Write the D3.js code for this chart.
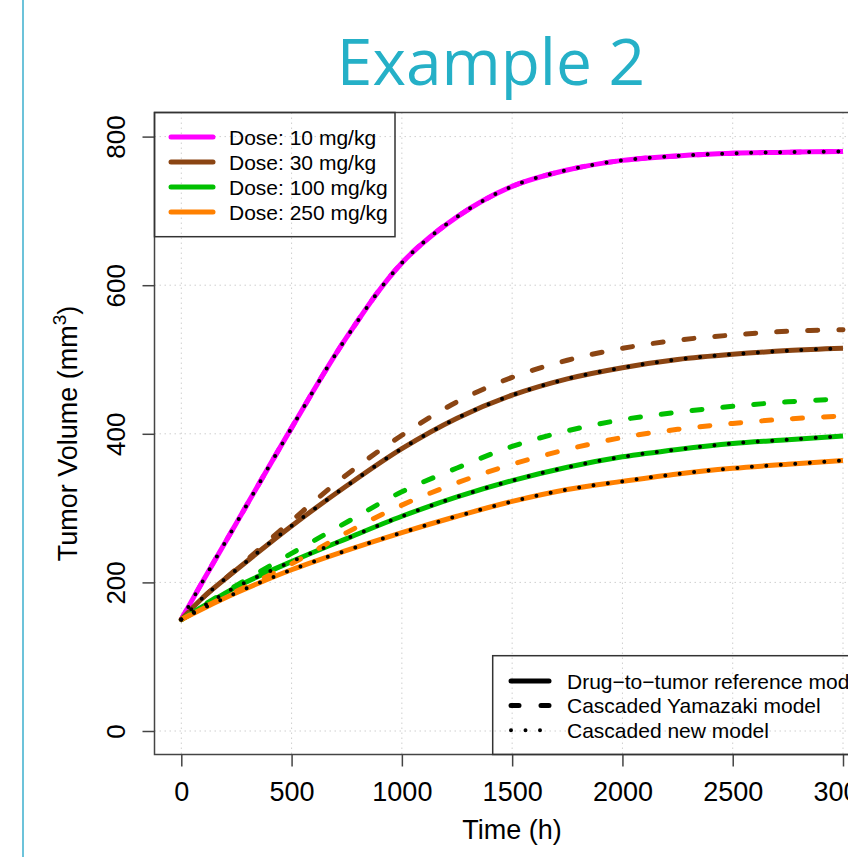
<!DOCTYPE html>
<html>
<head>
<meta charset="utf-8">
<script src="https://cdn.jsdelivr.net/npm/d3@7"></script>
<style>
  html, body { margin: 0; padding: 0; background: #fff; overflow: hidden; }
  svg { display: block; }
  text { font-family: "Liberation Sans", Arial, sans-serif; fill: #000; }
</style>
</head>
<body>
<svg id="chart"></svg>
<script>
const W = 848, H = 857

// time points (h)
const times = [0, 100, 250, 500, 750, 1000, 1250, 1500, 1750, 2000, 2250, 2500, 2750, 3000]

const doseLabels = ["Dose: 10 mg/kg", "Dose: 30 mg/kg", "Dose: 100 mg/kg", "Dose: 250 mg/kg"]
const doseColors = ["#ff00ff", "#8b4513", "#00c000", "#ff8000"]

// drug-to-tumor reference model (solid) - the cascaded new model (dotted) lies on top of it
const ref10 = [150, 203, 280, 408, 530, 630, 692, 733, 755, 768, 774, 777.5, 779, 780]
const ref30 = [150, 180, 217, 276, 330, 380, 421, 452, 474, 489, 500, 507, 512, 515]
const ref100 = [150, 168, 194, 228, 259, 289, 315, 337, 355, 369, 379, 387, 392, 397]
const ref250 = [150, 165, 186, 217, 243, 267, 289, 309, 325, 336, 346, 353.5, 359, 364]

// cascaded Yamazaki model (dashed)
const yam10 = [150, 203, 280, 408, 530, 630, 692, 733, 755, 768, 774, 777.5, 779, 780]
const yam30 = [150, 180, 218, 283, 345, 398, 443, 476, 499, 515, 526, 533, 538, 540]
const yam100 = [150, 169, 196, 239, 281, 322, 354, 383, 404, 419, 429, 437, 443, 447]
const yam250 = [150, 166, 188, 225, 267, 304, 334, 359, 379, 395, 406, 414, 420, 424]

const modelLabels = ["Drug\u2212to\u2212tumor reference model", "Cascaded Yamazaki model", "Cascaded new model"]

const xTicks = [0, 500, 1000, 1500, 2000, 2500, 3000]
const yTicks = [0, 200, 400, 600, 800]

const refSeries = [ref10, ref30, ref100, ref250]
const yamSeries = [yam10, yam30, yam100, yam250]

const svg = d3.select("#chart").attr("width", W).attr("height", H)

// slide decoration
svg.append("line")
    .attr("x1", 23).attr("x2", 23).attr("y1", 0).attr("y2", H)
    .attr("stroke", "#6cc3da").attr("stroke-width", 2)

svg.append("text")
    .attr("x", 491).attr("y", 85)
    .attr("text-anchor", "middle")
    .style("font-family", "'Open Sans', sans-serif")
    .style("font-size", "64px")
    .style("fill", "#25b0c7")
    .text("Example 2")

// plot box (R style, 4% extension)
const box = {left: 154.5, top: 112.5, bottom: 754.5}

const x = d3.scaleLinear().domain([0, 3000]).range([181.3, 843])
const y = d3.scaleLinear().domain([0, 800]).range([731, 136.6])
const right = x(3120)

// grid
const grid = svg.append("g")
grid.selectAll("line.gx")
    .data(xTicks)
    .enter().append("line")
    .attr("x1", d => x(d)).attr("x2", d => x(d))
    .attr("y1", box.top).attr("y2", box.bottom)
grid.selectAll("line.gy")
    .data(yTicks)
    .enter().append("line")
    .attr("x1", box.left).attr("x2", right)
    .attr("y1", d => y(d)).attr("y2", d => y(d))
grid.selectAll("line")
    .attr("stroke", "#cfcfcf").attr("stroke-width", 1)
    .attr("stroke-dasharray", "1.5,3.5")

// curves
const lineGenerator = d3.line()
    .x((d, i) => x(times[i]))
    .y(d => y(d))
    .curve(d3.curveCatmullRom.alpha(0.5))

const curves = svg.append("g")
refSeries.forEach((s, k) => {
    curves.append("path")
        .attr("d", lineGenerator(s))
        .attr("fill", "none")
        .attr("stroke", doseColors[k])
        .attr("stroke-width", 5)
})
yamSeries.forEach((s, k) => {
    curves.append("path")
        .attr("d", lineGenerator(s))
        .attr("fill", "none")
        .attr("stroke", doseColors[k])
        .attr("stroke-width", 5)
        .attr("stroke-linecap", "round")
        .attr("stroke-dasharray", "10,21")
})
refSeries.forEach((s, k) => {
    curves.append("path")
        .attr("d", lineGenerator(s))
        .attr("fill", "none")
        .attr("stroke", "#000")
        .attr("stroke-width", 4)
        .attr("stroke-linecap", "round")
        .attr("stroke-dasharray", "0,14.5")
})

// frame
svg.append("rect")
    .attr("x", box.left).attr("y", box.top)
    .attr("width", right - box.left).attr("height", box.bottom - box.top)
    .attr("fill", "none").attr("stroke", "#444").attr("stroke-width", 1.5)

// axes
const xAxis = svg.append("g")
    .attr("transform", `translate(0,${box.bottom})`)
    .call(d3.axisBottom(x).tickValues(xTicks).tickSize(12).tickFormat(d3.format("d")))
xAxis.select(".domain").remove()
xAxis.selectAll(".tick line").attr("stroke", "#444").attr("stroke-width", 1.5)
xAxis.selectAll(".tick text")
    .attr("y", 46.5).attr("dy", null)
    .style("font-size", "27px")
    .style("font-family", "'Liberation Sans', Arial, sans-serif")

const yAxis = svg.append("g")
    .attr("transform", `translate(${box.left},0)`)
    .call(d3.axisLeft(y).tickValues(yTicks).tickSize(12).tickFormat(d3.format("d")))
yAxis.select(".domain").remove()
yAxis.selectAll(".tick line").attr("stroke", "#444").attr("stroke-width", 1.5)
yAxis.selectAll(".tick text")
    .attr("x", 0).attr("y", -29.5).attr("dy", null)
    .attr("text-anchor", "middle")
    .attr("transform", "rotate(-90)")
    .style("font-size", "26px")
    .style("font-family", "'Liberation Sans', Arial, sans-serif")

// axis titles
svg.append("text")
    .attr("x", (box.left + right) / 2).attr("y", 839)
    .attr("text-anchor", "middle")
    .style("font-size", "27px")
    .text("Time (h)")

const yTitle = svg.append("text")
    .attr("transform", `translate(77,${(box.top + box.bottom) / 2}) rotate(-90)`)
    .attr("text-anchor", "middle")
    .style("font-size", "27px")
yTitle.append("tspan").text("Tumor Volume (mm")
yTitle.append("tspan").attr("dy", -11).style("font-size", "19px").text("3")
yTitle.append("tspan").attr("dy", 11).text(")")

// dose legend
const leg1 = svg.append("g")
leg1.append("rect")
    .attr("x", box.left).attr("y", box.top)
    .attr("width", 395 - box.left).attr("height", 236.7 - box.top)
    .attr("fill", "none").attr("stroke", "#333").attr("stroke-width", 1.5)
doseLabels.forEach((lab, i) => {
    const ry = 137 + i * 25
    leg1.append("line")
        .attr("x1", 171).attr("x2", 213).attr("y1", ry).attr("y2", ry)
        .attr("stroke", doseColors[i]).attr("stroke-width", 5).attr("stroke-linecap", "round")
    leg1.append("text")
        .attr("x", 229).attr("y", ry).attr("dominant-baseline", "central")
        .style("font-size", "21px")
        .text(lab)
})

// model legend
const leg2 = svg.append("g")
leg2.append("rect")
    .attr("x", 492.7).attr("y", 655.7)
    .attr("width", right + 60 - 492.7).attr("height", box.bottom - 655.7)
    .attr("fill", "none").attr("stroke", "#333").attr("stroke-width", 1.5)
const legDash = [null, "8,22", "0,14.5"]
modelLabels.forEach((lab, i) => {
    const ry = 681 + i * 24.6
    leg2.append("line")
        .attr("x1", 511).attr("x2", 549).attr("y1", ry).attr("y2", ry)
        .attr("stroke", "#000").attr("stroke-width", i == 2 ? 4 : 5)
        .attr("stroke-linecap", "round")
        .attr("stroke-dasharray", legDash[i])
    leg2.append("text")
        .attr("x", 567).attr("y", ry).attr("dominant-baseline", "central")
        .style("font-size", "21px")
        .text(lab)
})
</script>
</body>
</html>
